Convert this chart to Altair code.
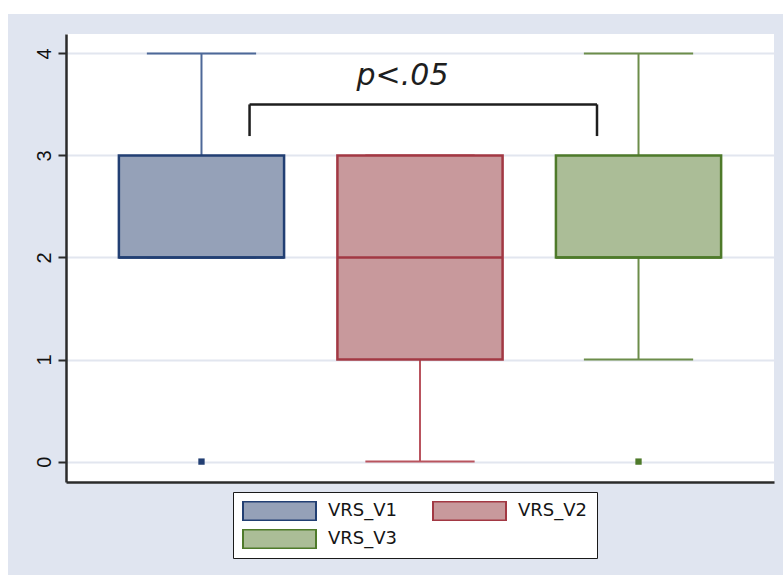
import altair as alt
import pandas as pd

# Box-plot summaries for the three VRS visits
groups = ["VRS_V1", "VRS_V2", "VRS_V3"]
positions = [1, 2, 3]
q1_values = [2, 1, 2]
median_values = [2, 2, 2]
q3_values = [3, 3, 3]
whisker_low = [2, 0, 1]
whisker_high = [4, 3, 4]

# Points outside the whiskers
outlier_groups = ["VRS_V1", "VRS_V3"]
outlier_values = [0, 0]

y_ticks = [0, 1, 2, 3, 4]

# Significance bracket between visit 1 and visit 3
bracket_left = 1.22
bracket_right = 2.81
bracket_top = 3.5
bracket_foot = 3.19
note_text = "p<.05"
note_x = 1.92
note_y = 3.78

# Styling
fill_colors = ["#95a1b8", "#c8999c", "#abbd97"]
stroke_colors = ["#223f73", "#a23843", "#4e7a2a"]
whisker_colors = ["#4d6898", "#b9545e", "#6c8d4a"]
box_half = 0.378
cap_half = 0.25

pos_of = dict(zip(groups, positions))
stroke_of = dict(zip(groups, stroke_colors))

boxes = pd.DataFrame({
    "group": groups,
    "pos": positions,
    "q1": q1_values,
    "median": median_values,
    "q3": q3_values,
    "lo": whisker_low,
    "hi": whisker_high,
    "edge": stroke_colors,
})

segments = pd.DataFrame({
    "pos": positions + positions,
    "from": whisker_low + q3_values,
    "to": q1_values + whisker_high,
    "wcolor": whisker_colors + whisker_colors,
})

caps = pd.DataFrame({
    "pos": positions + positions,
    "y": whisker_low + whisker_high,
    "wcolor": whisker_colors + whisker_colors,
})

outliers = pd.DataFrame({
    "pos": [pos_of[g] for g in outlier_groups],
    "value": outlier_values,
    "edge": [stroke_of[g] for g in outlier_groups],
})

bracket = pd.DataFrame({
    "x": [bracket_left, bracket_left, bracket_right],
    "x2": [bracket_right, bracket_left, bracket_right],
    "y": [bracket_top, bracket_foot, bracket_foot],
    "y2": [bracket_top, bracket_top, bracket_top],
})

note = pd.DataFrame({"x": [note_x], "y": [note_y], "label": [note_text]})

x_scale = alt.Scale(domain=[0.38, 3.62], nice=False, zero=False)
y_scale = alt.Scale(domain=[-0.2, 4.19], nice=False, zero=False)

x_axis = alt.Axis(labels=False, ticks=False, grid=False, title=None,
                  domainColor="#2b2b2b", domainWidth=2.5)
y_axis = alt.Axis(values=y_ticks, title=None, grid=True,
                  gridColor="#e2e6ef", gridWidth=2,
                  domainColor="#2b2b2b", domainWidth=2.5,
                  tickColor="#2b2b2b", tickWidth=2, tickSize=8,
                  labelAngle=270, labelAlign="center", labelBaseline="bottom",
                  labelPadding=4, labelFont="Liberation Sans", labelFontSize=20,
                  labelColor="#111111")


def X(field):
    return alt.X(field, type="quantitative", scale=x_scale, axis=x_axis)


def Y(field):
    return alt.Y(field, type="quantitative", scale=y_scale, axis=y_axis)


one = pd.DataFrame({"k": [0]})

# White page margin around the tinted panel
strip_left = alt.Chart(one).mark_rect(color="white").encode(
    x=alt.value(-66), x2=alt.value(-58), y=alt.value(-34), y2=alt.value(541))
strip_top = alt.Chart(one).mark_rect(color="white").encode(
    x=alt.value(-66), x2=alt.value(717), y=alt.value(-34), y2=alt.value(-20))

whiskers = alt.Chart(segments).mark_rule(strokeWidth=2).encode(
    x=X("pos"), y=Y("from"), y2="to",
    stroke=alt.Stroke("wcolor:N", scale=None))

cap_rules = alt.Chart(caps).transform_calculate(
    a=alt.datum.pos - cap_half, b=alt.datum.pos + cap_half
).mark_rule(strokeWidth=2).encode(
    x=X("a"), x2="b", y=Y("y"),
    stroke=alt.Stroke("wcolor:N", scale=None))

legend = alt.Legend(
    title=None, orient="none", legendX=167, legendY=458, columns=2,
    direction="horizontal",
    symbolType="M-1,-0.26L1,-0.26L1,0.26L-1,0.26Z", symbolSize=5329,
    symbolStrokeWidth=2, symbolOpacity=1, clipHeight=20, rowPadding=8,
    columnPadding=34, labelOffset=11, labelFont="DejaVu Sans",
    labelFontSize=18, labelColor="#151515", padding=9,
    strokeColor="#1a1a1a", fillColor="white")

box_rects = alt.Chart(boxes).transform_calculate(
    a=alt.datum.pos - box_half, b=alt.datum.pos + box_half
).mark_rect(strokeWidth=2.5, opacity=1).encode(
    x=X("a"), x2="b", y=Y("q1"), y2="q3",
    fill=alt.Fill("group:N", scale=alt.Scale(domain=groups, range=fill_colors), legend=legend),
    stroke=alt.Stroke("group:N", scale=alt.Scale(domain=groups, range=stroke_colors), legend=legend))

median_rules = alt.Chart(boxes).transform_calculate(
    a=alt.datum.pos - box_half, b=alt.datum.pos + box_half
).mark_rule(strokeWidth=2.5).encode(
    x=X("a"), x2="b", y=Y("median"),
    stroke=alt.Stroke("edge:N", scale=None))

outlier_pts = alt.Chart(outliers).mark_square(size=40, opacity=1).encode(
    x=X("pos"), y=Y("value"),
    color=alt.Color("edge:N", scale=None))

bracket_rules = alt.Chart(bracket).mark_rule(strokeWidth=2.5, color="#1e1e1e").encode(
    x=X("x"), x2="x2", y=Y("y"), y2="y2")

note_text_mark = alt.Chart(note).mark_text(
    font="DejaVu Sans", fontStyle="italic", fontSize=30, color="#1e1e1e",
    align="center", baseline="middle"
).encode(x=X("x"), y=Y("y"), text="label:N")

chart = alt.layer(
    strip_left, strip_top, whiskers, cap_rules, box_rects, median_rules,
    outlier_pts, bracket_rules, note_text_mark
).properties(
    width=708, height=448,
    padding={"left": 66, "top": 34, "right": 9, "bottom": 93},
    autosize=alt.AutoSizeParams(type="none"),
).configure(
    background="#e0e5f0"
).configure_view(
    fill="white", strokeWidth=0
)

chart.save("out.html", embed_options={"renderer": "svg", "actions": False})
